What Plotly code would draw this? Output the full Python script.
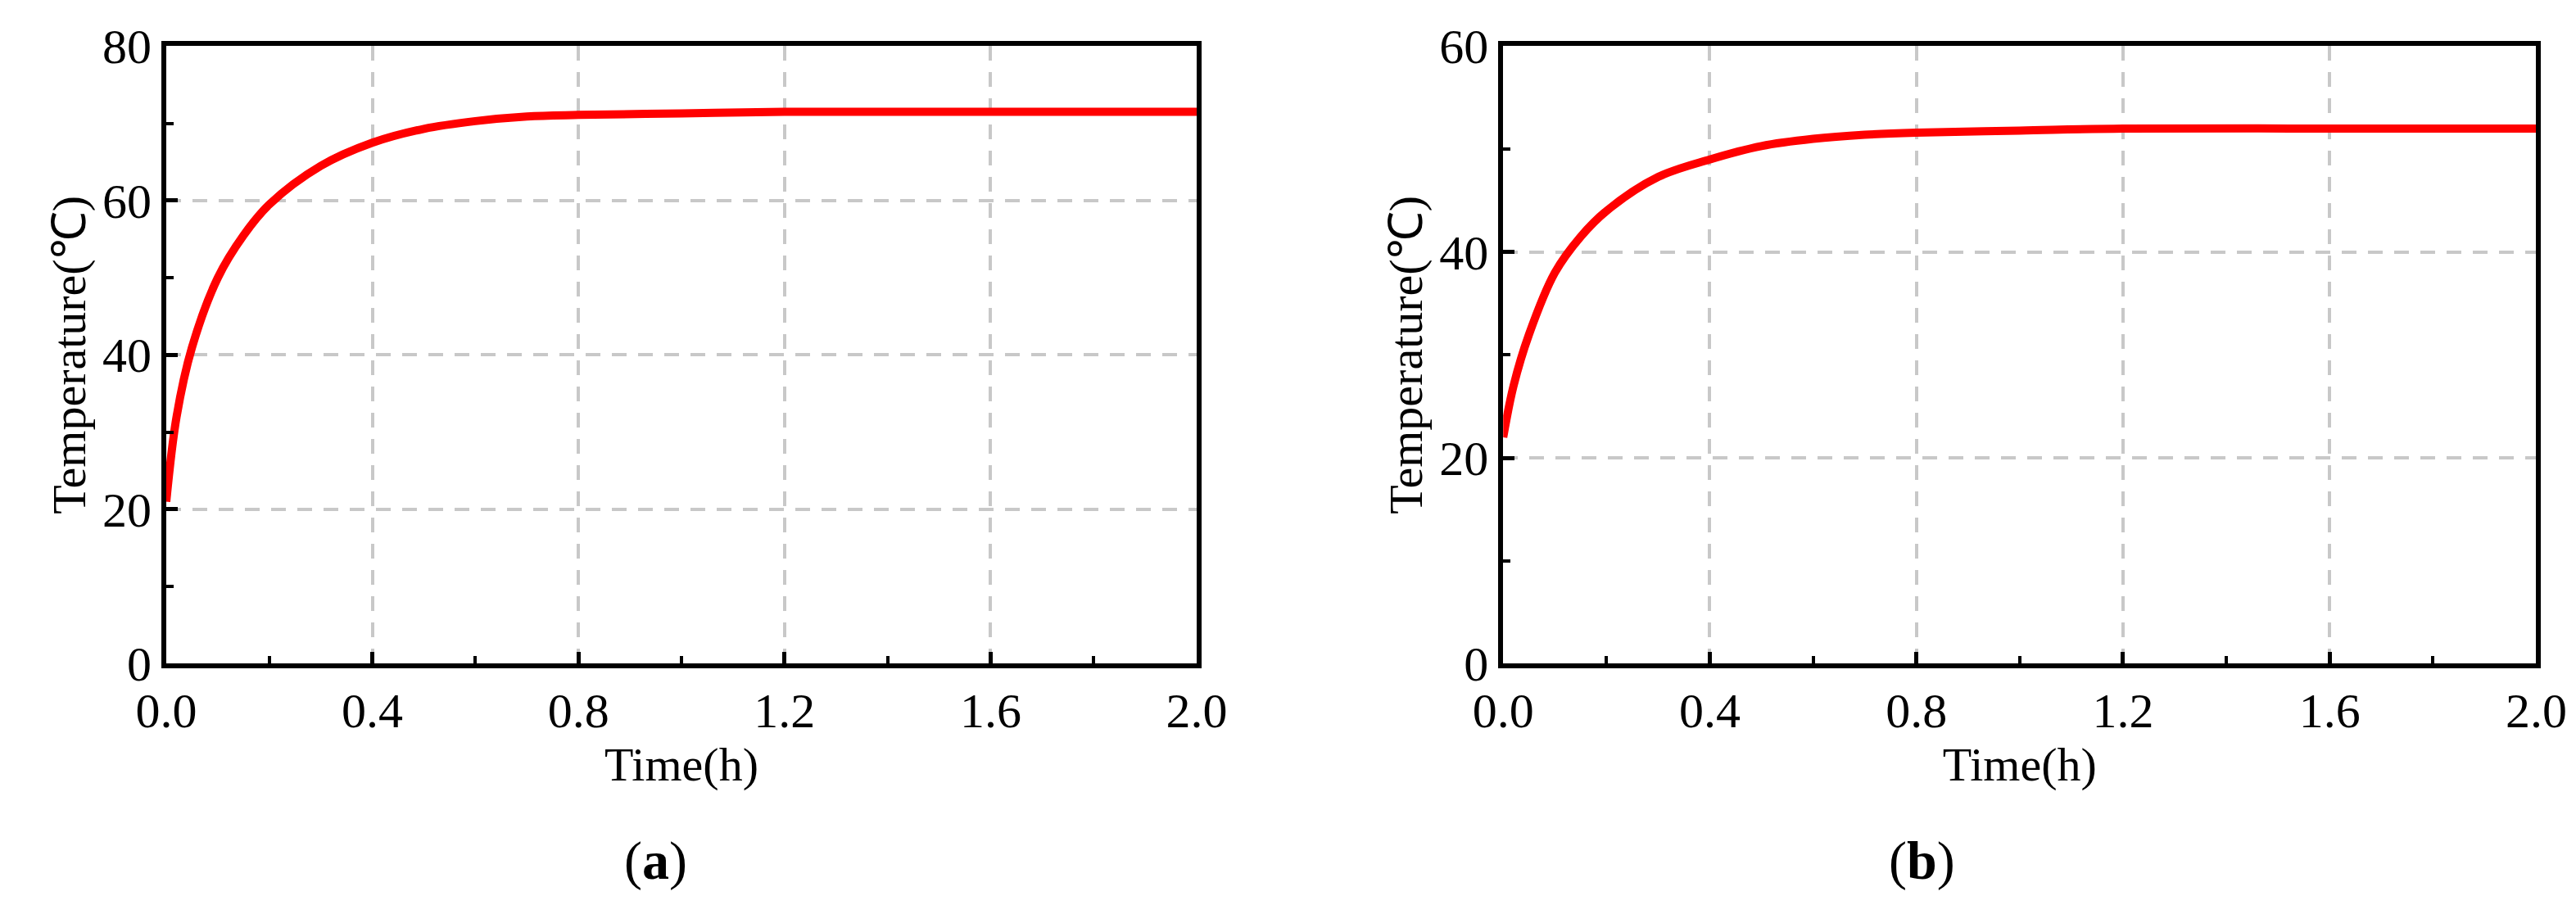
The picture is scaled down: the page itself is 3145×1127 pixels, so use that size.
import plotly.graph_objects as go

time_a = [0, 0.02, 0.05, 0.1, 0.15, 0.2, 0.3, 0.4, 0.5, 0.6, 0.7, 0.8, 1.0, 1.2, 1.6, 2.0]
temp_a = [21, 32, 41, 50, 55.5, 59.5, 64.5, 67.5, 69.3, 70.3, 70.9, 71.1, 71.3, 71.5, 71.5, 71.5]
time_b = [0, 0.02, 0.05, 0.1, 0.15, 0.2, 0.3, 0.4, 0.5, 0.6, 0.7, 0.8, 1.0, 1.2, 1.6, 2.0]
temp_b = [22, 27, 32, 38, 41.5, 44, 47.3, 49, 50.3, 51, 51.4, 51.6, 51.8, 52, 52, 52]

font = "Liberation Serif"
fig = go.Figure()
fig.add_trace(go.Scatter(x=time_a, y=temp_a, mode="lines", line=dict(color="#ff0000", width=10, shape="spline"), xaxis="x", yaxis="y"))
fig.add_trace(go.Scatter(x=time_b, y=temp_b, mode="lines", line=dict(color="#ff0000", width=10, shape="spline"), xaxis="x2", yaxis="y2"))

def xax(dom, anchor):
    return dict(domain=dom, anchor=anchor, range=[0, 2], dtick=0.4, tickformat=".1f", automargin=False,
                showline=True, mirror=True, linecolor="black", linewidth=6,
                ticks="inside", ticklen=14, tickwidth=5, tickcolor="black",
                minor=dict(dtick=0.2, ticks="inside", ticklen=9, tickwidth=4, tickcolor="black", showgrid=False),
                showgrid=True, gridcolor="#c8c8c8", griddash="18px,14px", gridwidth=4, zeroline=False,
                tickfont=dict(family=font, size=60, color="black"),
                title=dict(text="Time(h)", font=dict(family=font, size=58, color="black"), standoff=0))

def yax(dom, anchor, top, dt):
    return dict(domain=dom, anchor=anchor, range=[0, top], dtick=dt, automargin=False,
                showline=True, mirror=True, linecolor="black", linewidth=6,
                ticks="inside", ticklen=14, tickwidth=5, tickcolor="black",
                minor=dict(dtick=dt / 2, ticks="inside", ticklen=9, tickwidth=4, tickcolor="black", showgrid=False),
                showgrid=True, gridcolor="#c8c8c8", griddash="18px,14px", gridwidth=4, zeroline=False,
                tickfont=dict(family=font, size=60, color="black"),
                title=dict(text="Temperature(℃)", font=dict(family=font, size=58, color="black"), standoff=4))

fig.update_layout(
    width=3145, height=1127, showlegend=False,
    paper_bgcolor="white", plot_bgcolor="white",
    margin=dict(l=0, r=0, t=0, b=0),
    xaxis=xax([0.062, 0.462], "y"), yaxis=yax([0.288, 0.957], "x", 80, 20),
    xaxis2=xax([0.581, 0.982], "y2"), yaxis2=yax([0.288, 0.957], "x2", 60, 20),
    annotations=[
        dict(text="(<b>a</b>)", x=0.239, y=0.04, xref="paper", yref="paper", showarrow=False, font=dict(family=font, size=66, color="black")),
        dict(text="(<b>b</b>)", x=0.757, y=0.04, xref="paper", yref="paper", showarrow=False, font=dict(family=font, size=66, color="black")),
    ],
)
fig.write_html("out.html")
